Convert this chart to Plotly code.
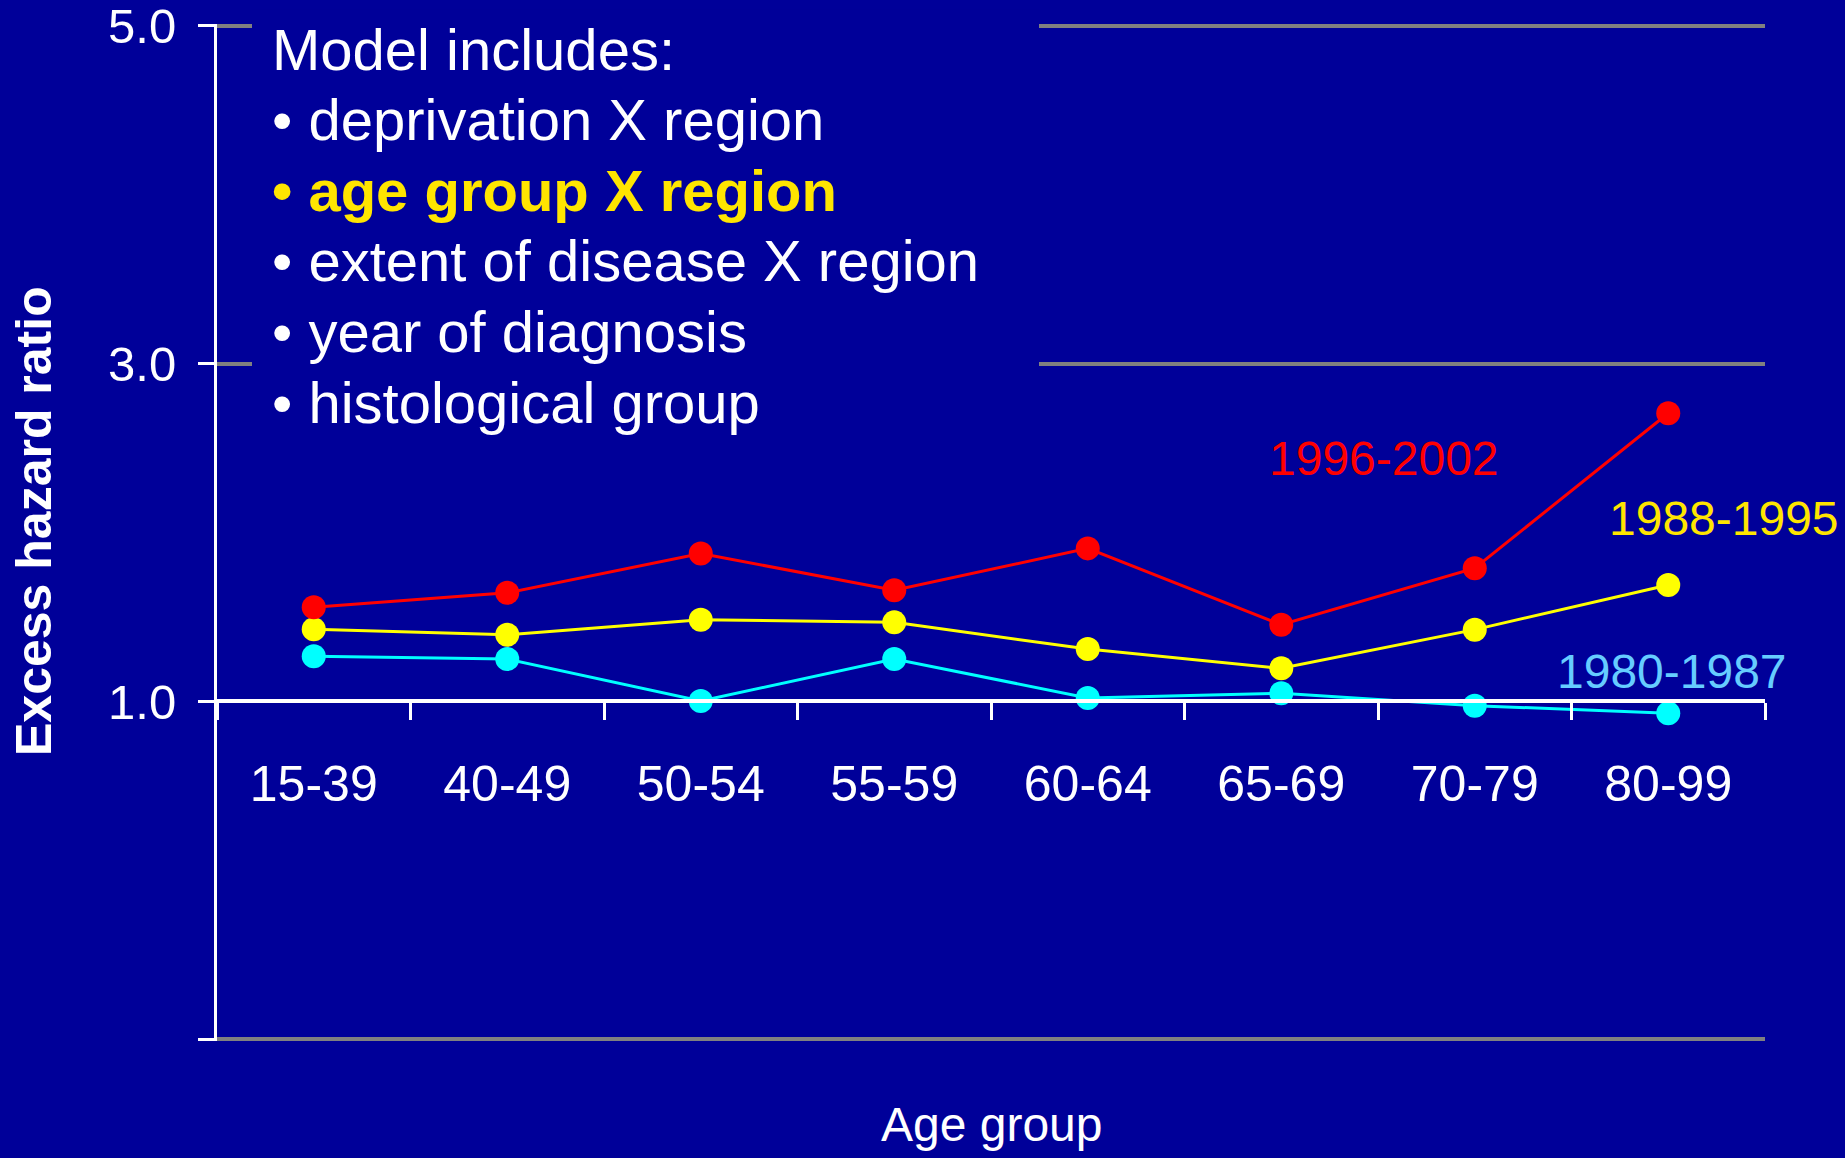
import plotly.graph_objects as go

age_groups = ["15-39", "40-49", "50-54", "55-59", "60-64", "65-69", "70-79", "80-99"]
ehr_1996_2002 = [1.557, 1.643, 1.876, 1.658, 1.906, 1.454, 1.789, 2.706]
ehr_1988_1995 = [1.427, 1.395, 1.484, 1.468, 1.310, 1.196, 1.425, 1.689]
ehr_1980_1987 = [1.267, 1.251, 1.003, 1.251, 1.021, 1.048, 0.975, 0.930]

y_tickvals = [-1, 1, 3, 5]
y_ticktext = ["", "1.0", "3.0", "5.0"]

model_lines = [
    ("Model includes:", "white", False),
    ("• deprivation X region", "white", False),
    ("• age group X region", "#FFE500", True),
    ("• extent of disease X region", "white", False),
    ("• year of diagnosis", "white", False),
    ("• histological group", "white", False),
]

BG = "#000099"
FONT = "Liberation Sans, Arial, sans-serif"

fig = go.Figure()
series = [
    ("1996-2002", ehr_1996_2002, "#FF0000"),
    ("1988-1995", ehr_1988_1995, "#FFFF00"),
    ("1980-1987", ehr_1980_1987, "#00FFFF"),
]
for name, vals, col in series[::-1]:
    fig.add_trace(go.Scatter(
        x=age_groups, y=vals, mode="lines+markers", name=name,
        line=dict(color=col, width=3),
        marker=dict(color=col, size=24),
        cliponaxis=False,
    ))

W, H = 1845, 1158
# target pixel positions: y=5 -> 26, y=-1 -> 1039
pad = 0.01
unit = (1039 - 26) / 6.0
ml, mr = 217, 80
mt = 26 - pad * unit
mb = (H - 1039) - pad * unit
pw = W - ml - mr

def px_x(x):
    return (x - ml) / pw

def px_y(y):
    top = mt
    bottom = H - mb
    return (bottom - y) / (bottom - top)

fig.update_layout(
    width=W, height=H,
    margin=dict(l=ml, r=mr, t=mt, b=mb, pad=0, autoexpand=False),
    paper_bgcolor=BG, plot_bgcolor=BG,
    showlegend=False,
    font=dict(family=FONT, color="white"),
    xaxis=dict(
        type="category", range=[-0.5, 7.5],
        anchor="free", position=(1 - (-1 - pad)) / (6 + 2 * pad),
        showline=True, linecolor="white", linewidth=4,
        ticks="outside", tickson="boundaries", ticklen=17, tickwidth=3, tickcolor="white",
        showgrid=False, zeroline=False, automargin=False,
        tickfont=dict(size=50, color="white", family=FONT),
        ticklabelstandoff=38,
    ),
    yaxis=dict(
        range=[-1 - pad, 5 + pad], tickvals=y_tickvals, ticktext=y_ticktext,
        showline=True, linecolor="white", linewidth=3,
        ticks="outside", ticklen=16, tickwidth=3, tickcolor="white",
        showgrid=True, gridcolor="#808080", gridwidth=4,
        zeroline=False, automargin=False,
        tickfont=dict(size=49, color="white", family=FONT),
        ticklabelstandoff=12,
        ticklabeloverflow="allow",
    ),
)

# background box behind the model description, covering gridlines
fig.add_shape(type="rect", xref="paper", yref="paper",
              x0=px_x(252), x1=px_x(1039), y0=px_y(440), y1=px_y(10),
              fillcolor=BG, line=dict(width=0), layer="above")

line_centers = [49.4, 120.0, 190.6, 261.0, 331.8, 402.4]
for (txt, col, bold), yc in zip(model_lines, line_centers):
    fig.add_annotation(
        text=f"<b>{txt}</b>" if bold else txt,
        xref="paper", yref="paper", x=px_x(270), y=px_y(yc),
        xanchor="left", yanchor="middle", showarrow=False,
        font=dict(size=58, color=col, family=FONT),
    )

# series labels
labels = [
    ("1996-2002", "#FF0000", 1384, 459),
    ("1988-1995", "#FFE500", 1724, 519),
    ("1980-1987", "#66CCFF", 1672, 671),
]
for txt, col, xc, yc in labels:
    fig.add_annotation(
        text=txt, xref="paper", yref="paper", x=px_x(xc), y=px_y(yc),
        xanchor="center", yanchor="middle", showarrow=False,
        font=dict(size=48, color=col, family=FONT),
    )

# axis titles
fig.add_annotation(
    text="Age group", xref="paper", yref="paper", x=px_x(992), y=px_y(1124),
    xanchor="center", yanchor="middle", showarrow=False,
    font=dict(size=48, color="white", family=FONT),
)
fig.add_annotation(
    text="<b>Excess hazard ratio</b>", xref="paper", yref="paper", x=px_x(34), y=px_y(521),
    xanchor="center", yanchor="middle", showarrow=False, textangle=-90,
    font=dict(size=50, color="white", family=FONT),
)

fig.write_html(
    "out.html",
    config={"displayModeBar": False},
    post_script="document.body.style.margin='0';document.body.style.padding='0';document.body.style.overflow='hidden';",
)
